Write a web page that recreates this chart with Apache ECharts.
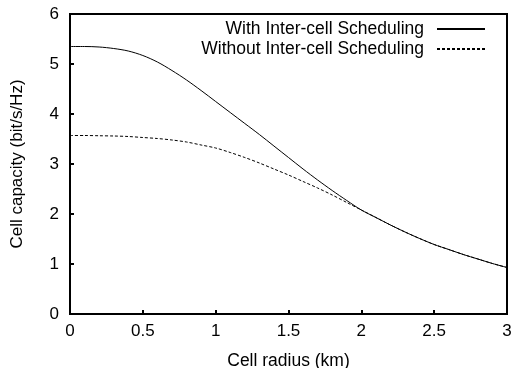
<!DOCTYPE html>
<html>
<head>
<meta charset="utf-8">
<script src="https://cdn.jsdelivr.net/npm/echarts@6/dist/echarts.min.js"></script>
<style>
  html, body { margin: 0; padding: 0; background: #fff; }
  #chart { width: 517px; height: 368px; }
</style>
</head>
<body>
<div id="chart"></div>
<script>
// cell radius (km)
const radius = [0, 0.1, 0.2, 0.3, 0.4, 0.5, 0.6, 0.7, 0.8, 0.9, 1.0,
  1.1, 1.2, 1.3, 1.4, 1.5, 1.6, 1.7, 1.8, 1.9, 2.0,
  2.1, 2.2, 2.3, 2.4, 2.5, 2.6, 2.7, 2.8, 2.9, 3.0];

// capacity (bit/s/Hz)
const withSched = [5.35, 5.35, 5.34, 5.31, 5.26, 5.17, 5.04, 4.87, 4.68, 4.47, 4.25,
  4.03, 3.81, 3.59, 3.36, 3.13, 2.90, 2.68, 2.47, 2.27, 2.08,
  1.93, 1.78, 1.64, 1.51, 1.39, 1.29, 1.19, 1.10, 1.01, 0.93];
const withoutSched = [3.57, 3.57, 3.565, 3.56, 3.55, 3.53, 3.51, 3.48, 3.44, 3.38, 3.32,
  3.23, 3.13, 3.02, 2.90, 2.78, 2.65, 2.52, 2.38, 2.23, 2.08,
  1.93, 1.78, 1.64, 1.51, 1.39, 1.29, 1.19, 1.10, 1.01, 0.93];

const seriesNames = ['With Inter-cell Scheduling', 'Without Inter-cell Scheduling'];

const fontFamily = '"Liberation Sans", Arial, sans-serif';

const toPairs = (ys) => radius.map((x, i) => [x, ys[i]]);

const options = {
  animation: false,
  grid: {
    show: true,
    borderColor: '#000',
    borderWidth: 2,
    left: 70,
    right: 10,
    top: 14,
    bottom: 54,
    outerBoundsMode: 'none'
  },
  legend: {
    data: seriesNames,
    orient: 'vertical',
    align: 'right',
    right: 31,
    top: 20,
    itemWidth: 48,
    itemHeight: 14,
    itemGap: 2,
    padding: 0,
    itemStyle: { opacity: 0, color: 'transparent', borderWidth: 0 },
    textStyle: {
      fontFamily: fontFamily,
      fontSize: 17.5,
      lineHeight: 14,
      color: '#000',
      padding: [0, 8, 0, 0]
    }
  },
  xAxis: {
    type: 'value',
    min: 0,
    max: 3,
    interval: 0.5,
    name: 'Cell radius (km)',
    nameLocation: 'middle',
    nameGap: 38,
    nameTextStyle: { fontFamily: fontFamily, fontSize: 17.5, color: '#000' },
    axisLabel: { fontFamily: fontFamily, fontSize: 17, color: '#000', margin: 9 },
    axisLine: { show: true, onZero: false, lineStyle: { color: '#000', width: 2 } },
    axisTick: { show: true, inside: true, length: 4, lineStyle: { color: '#000', width: 2 } },
    splitLine: { show: false }
  },
  yAxis: {
    type: 'value',
    min: 0,
    max: 6,
    interval: 1,
    name: 'Cell capacity (bit/s/Hz)',
    nameLocation: 'middle',
    nameGap: 44,
    nameTextStyle: { fontFamily: fontFamily, fontSize: 17, color: '#000' },
    axisLabel: { fontFamily: fontFamily, fontSize: 17, color: '#000', margin: 11 },
    axisLine: { show: true, onZero: false, lineStyle: { color: '#000', width: 2 } },
    axisTick: { show: true, inside: true, length: 4, lineStyle: { color: '#000', width: 2 } },
    splitLine: { show: false }
  },
  series: [{
    name: seriesNames[0],
    type: 'line',
    data: toPairs(withSched),
    symbol: 'none',
    smooth: 0.3,
    lineStyle: { color: '#000', width: 1, type: 'solid' },
    itemStyle: { color: '#000' }
  }, {
    name: seriesNames[1],
    type: 'line',
    data: toPairs(withoutSched),
    symbol: 'none',
    smooth: 0.3,
    lineStyle: { color: '#000', width: 1, type: [3, 2] },
    itemStyle: { color: '#000' }
  }]
};

const chart = echarts.init(document.getElementById('chart'));
chart.setOption(options);
</script>
</body>
</html>
